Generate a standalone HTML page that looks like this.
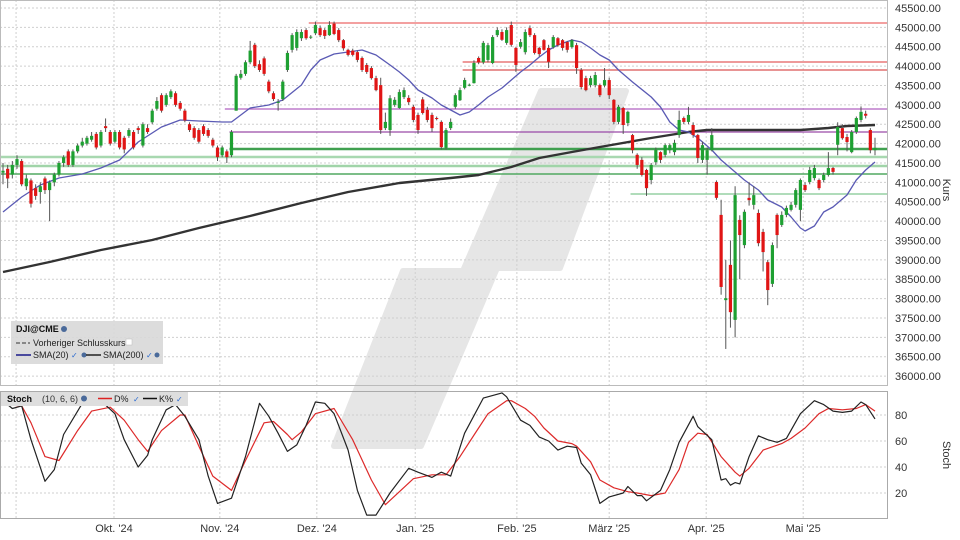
<!DOCTYPE html>
<html><head><meta charset="utf-8"><style>
html,body{margin:0;padding:0;background:#fff;}
svg{display:block;font-family:"Liberation Sans",sans-serif;}
</style></head><body>
<svg id="chart" width="960" height="540" viewBox="0 0 960 540" xmlns="http://www.w3.org/2000/svg">
<rect x="0" y="0" width="960" height="540" fill="#fff"/>
<polygon points="541,91 626,91 560,268 497,268 421,446 334,446 403,271 463,271" fill="#e6e6e6" stroke="#e6e6e6" stroke-width="6" stroke-linejoin="round"/>
<g id="grid"></g>
<g id="levels"></g>
<g id="smas"></g>
<g id="candles"></g>
<g id="stoch"></g>
<g id="axes"></g>
<rect x="0.5" y="0.5" width="887" height="385" fill="none" stroke="#bbb"/>
<rect x="0.5" y="391.5" width="887" height="127" fill="none" stroke="#aaa"/>
<text transform="translate(943,190) rotate(90)" font-size="11" fill="#333" text-anchor="middle">Kurs</text>
<text transform="translate(943,455) rotate(90)" font-size="11" fill="#333" text-anchor="middle">Stoch</text>
<g>
<rect x="11" y="321" width="152" height="43" fill="#d8d8d8" opacity="0.9"/>
<text x="16" y="332" font-size="9" font-weight="bold" fill="#111">DJI@CME</text>
<circle cx="64" cy="329" r="3" fill="#4a6a9a"/>
<line x1="16" y1="343" x2="30" y2="343" stroke="#333" stroke-dasharray="4,2"/>
<text x="33" y="346" font-size="9" fill="#222">Vorheriger Schlusskurs</text>
<rect x="126" y="339" width="6" height="6" fill="#fff" stroke="#bbb" stroke-width="0.5"/>
<line x1="16" y1="355" x2="31" y2="355" stroke="#1a1a8a" stroke-width="1.5"/>
<text x="33" y="358" font-size="9" fill="#222">SMA(20)</text>
<text x="71" y="358" font-size="8" fill="#2a6ad0">✓</text>
<circle cx="84" cy="355" r="2.5" fill="#4a6a9a"/>
<line x1="86" y1="355" x2="101" y2="355" stroke="#222" stroke-width="1.5"/>
<text x="103" y="358" font-size="9" fill="#222">SMA(200)</text>
<text x="146" y="358" font-size="8" fill="#2a6ad0">✓</text>
<circle cx="157" cy="355" r="2.5" fill="#4a6a9a"/>
</g>
<g>
<rect x="1" y="392" width="187" height="14" fill="#dedede"/>
<text x="7" y="402" font-size="9" font-weight="bold" fill="#111">Stoch</text>
<text x="42" y="402" font-size="9" fill="#333">(10, 6, 6)</text>
<circle cx="84" cy="398.5" r="3" fill="#4a6a9a"/>
<line x1="98" y1="398.5" x2="112" y2="398.5" stroke="#d22" stroke-width="1.5"/>
<text x="114" y="402" font-size="9" fill="#222">D%</text>
<text x="133" y="402" font-size="8" fill="#2a6ad0">✓</text>
<line x1="143" y1="398.5" x2="157" y2="398.5" stroke="#111" stroke-width="1.5"/>
<text x="159" y="402" font-size="9" fill="#222">K%</text>
<text x="176" y="402" font-size="8" fill="#2a6ad0">✓</text>
</g>
</svg>
<script>
const opens=[41250,41350,41200,41450,41550,40900,41050,40850,40750,41100,40800,41000,41200,41500,41800,41450,41800,41950,42000,42100,42250,41950,42450,42300,42050,42300,42150,42200,42300,42400,41950,42400,42550,42900,43250,43000,43200,43300,43050,42850,42500,42400,42350,42450,42350,42100,41900,41700,41800,41700,
42850,43700,43800,44100,44550,44050,44200,43600,43300,43050,43150,43900,44420,44470,44720,44930,44750,
44850,44980,44930,44800,45100,44930,44670,44420,44400,44360,44210,44030,43950,43690,43510,42400,42350,43000,42920,43200,43180,42950,42740,43140,42870,42740,42660,42560,41890,42400,42950,43120,43440,43510,43560,44210,44100,44160,44080,44800,44880,44600,45060,44470,44500,44360,44980,44800,44470,44670,44470,44490,44720,44670,44620,44490,44540,43900,43690,43510,43510,43510,43500,
43640,43130,42560,42920,42530,42220,41710,41580,41320,41060,41520,41780,41710,41830,41780,42220,42660,42560,42480,42220,41580,41580,41830,41010,40160,37960,38870,37450,40030,39380,40600,40420,40210,39720,38940,38380,40160,39900,40160,40290,40420,40290,40930,41010,41110,41060,41060,41190,41370,41970,42400,42170,41780,42300,42610,42770,42350,41830];
const closes=[41300,41100,41450,41600,40950,41100,40450,40650,40900,40800,41000,41200,41500,41650,41450,41800,41950,42050,42150,42200,41900,42300,42400,42000,42300,41900,41850,42350,41900,42350,42500,42300,42850,43100,42850,43250,43350,43000,42900,42600,42350,42150,42050,42250,42200,41950,41650,41900,41650,42300,
43750,43800,44100,44400,44000,43900,43800,43350,43150,43080,43600,44340,44800,44880,44880,44720,44760,
45060,44800,44780,45060,44830,44670,44460,44290,44290,44160,43900,43850,43690,43380,42350,42560,43170,43130,43330,43380,43070,42610,42350,42790,42610,42400,42650,41910,42350,42560,43250,43380,43640,43520,44080,44100,44600,44540,44750,44930,44680,44930,44550,44030,44620,44880,44800,44340,44310,44420,44110,44750,44540,44470,44420,44670,43950,43460,43380,43690,43770,43250,43640,
43250,42560,42950,42480,42820,41830,41450,41190,40850,41450,41840,41580,41960,41960,42020,42610,42560,42740,42220,41630,41960,41830,42220,40600,38300,38010,37650,40670,39640,40240,40540,40670,39430,39200,38220,39380,39640,40160,40340,40420,40800,41060,40800,41320,41370,40850,41190,41370,41270,42430,42140,42040,42300,42660,42820,42720,41830,41890];
const highs=[41500,41450,41550,41700,41600,41200,41100,40950,41000,41150,41050,41250,41550,41700,41850,41850,42000,42150,42200,42300,42300,42350,42650,42350,42350,42350,42200,42400,42350,42450,42550,42500,42900,43200,43300,43300,43400,43350,43100,42900,42550,42450,42400,42500,42400,42150,41950,41950,41850,42350,
43800,43900,44150,44650,44600,44150,44250,43650,43350,43150,43650,44400,44850,44950,44950,44980,44800,
45150,45050,44980,45160,45150,44980,44700,44450,44450,44400,44250,44080,44000,43750,43700,42800,43250,43200,43400,43450,43250,43000,42800,43200,42950,42800,42700,42600,42400,42650,43300,43450,43700,43550,44150,44250,44650,44600,44800,45000,44950,45000,45150,44500,44700,44950,45050,44850,44500,44700,44550,44800,44750,44700,44650,44700,44600,43950,43750,43750,43850,43550,43950,
43700,43150,43000,42950,42850,42250,41750,41650,41350,41500,41900,41800,42000,42000,42100,42850,42700,42950,42550,42250,42050,41900,42400,41050,40550,39000,39500,40900,40150,40300,41000,40900,40300,39800,39000,39450,40200,40250,40400,40500,40850,41100,41000,41400,41450,41100,41250,41780,41400,42550,42500,42250,42350,42700,42960,42850,42400,42150];
const lows=[40950,40850,41100,41350,40900,40800,40350,40550,40450,40700,40000,40900,41150,41400,41400,41400,41750,41900,41950,42050,41850,41900,42300,41950,42000,41850,41750,42150,41850,42250,41900,42250,42500,42850,42800,42950,43150,42950,42850,42550,42300,42100,42000,42200,42150,41900,41550,41650,41500,41650,
42850,43650,43750,44050,43950,43850,43750,43300,43100,42850,43100,43850,44350,44400,44650,44680,44700,
44800,44750,44700,44780,44800,44620,44400,44250,44250,44100,43850,43800,43650,43350,42250,42350,42200,42950,42900,43150,43000,42550,42250,42750,42550,42300,42600,41850,41850,42350,42900,43100,43400,43480,43550,44050,44050,44100,44050,44750,44650,44550,44500,43850,44450,44300,44750,44300,44250,44400,43950,44450,44500,44400,44350,44450,43800,43400,43350,43450,43450,43200,43450,
43150,42500,42500,42250,42450,41750,41350,41150,40650,40950,41450,41500,41650,41750,41700,42150,42500,42500,42150,41500,41500,41200,41800,40550,38100,36700,37250,37000,38500,39300,40400,40300,39350,38700,37830,38300,39300,39850,40100,40250,40350,40000,40750,40950,41050,40800,41000,41150,41200,41700,42100,41800,41750,42250,42550,42650,41750,41700];

const sma20Idx=[0,4,8,12,17,21,25,29,34,38,42,47,49,53,57,60,64,66,68,71,74,77,80,83,85,87,89,92,94,96,98,100,102,104,107,109,111,113,115,117,119,122,124,126,128,130,132,135,139,141,143,145,147,149,152,154,157,159,162,164,167,169,171,172,174,176,178,181,183,185,187];
const sma20Val=[40235,40622,40932,41112,41215,41370,41577,42041,42429,42609,42584,42558,42558,42919,42997,43125,43513,43900,44158,44313,44364,44416,44287,44029,43848,43642,43384,43177,42997,42867,42738,42816,42997,43203,43435,43642,43848,44029,44235,44416,44545,44674,44622,44468,44287,44158,43900,43590,43203,42945,42558,42351,42300,42145,41835,41577,41267,41061,40803,40544,40364,40106,39822,39744,39873,40235,40364,40674,41061,41319,41525];
const sma200Idx=[0,10,21,32,42,53,64,74,85,96,102,109,115,122,128,139,147,151,154,162,171,177,181,187];
const sma200Val=[38686,38944,39254,39512,39822,40131,40467,40751,40983,41112,41190,41396,41629,41783,41912,42145,42300,42351,42351,42351,42351,42403,42455,42480];

const kIdx=[0,2,4,6,9,11,13,17,19,21,24,26,29,31,32,35,37,39,42,44,46,49,52,55,57,59,61,63,65,67,69,71,74,76,78,80,83,87,89,92,94,96,99,103,107,108,111,113,115,117,119,121,123,124,126,128,130,133,134,136,137,138,141,143,145,148,149,152,154,155,156,157,158,160,162,164,166,168,171,174,176,178,180,182,184,185,187];
const kVal=[91,85,87,61,29,38,65,89,90,91,81,61,40,49,61,84,88,79,61,33,12,16,48,89,79,66,52,57,72,90,89,81,53,22,3,3,20,39,36,32,36,33,66,93,97,94,76,72,63,60,53,56,55,43,34,12,17,20,25,18,18,14,22,38,59,79,71,61,30,31,26,28,27,48,64,61,59,62,81,91,88,83,82,83,90,88,77];
const dIdx=[0,4,6,9,12,16,19,23,26,29,31,34,38,39,42,45,49,52,56,58,61,62,64,67,71,75,79,82,85,88,92,95,98,102,104,108,109,112,114,116,119,122,123,126,128,131,134,136,139,142,145,147,149,151,154,157,158,160,163,167,169,172,175,177,180,183,185,187];
const dVal=[88,87,74,48,45,68,83,86,76,61,52,68,80,80,56,33,22,45,74,75,65,61,67,81,85,61,30,11,21,31,34,34,48,70,81,91,91,85,79,70,60,58,56,44,30,24,21,20,18,20,38,59,66,65,48,36,33,39,53,58,62,70,81,85,84,85,88,83];

const priceTicks=[45500,45000,44500,44000,43500,43000,42500,42000,41500,41000,40500,40000,39500,39000,38500,38000,37500,37000,36500,36000];
const stochTicks=[20,40,60,80];
const monthIdx=[2.8,23.8,46.5,67.3,88.4,110.2,130,150.8,171.6];
const monthLabels=["","Okt. '24","Nov. '24","Dez. '24","Jan. '25","Feb. '25","März '25","Apr. '25","Mai '25"];

const levelPrices=[45113,44106,43900,42893,42300,41860,41654,41422,41215,40700];
const levelStart=[66,99,99,48,49,49,0,0,0,135];
const levelColors=["#f3a0a0","#ee9a9a","#e07070","#b060c0","#9a4aa8","#40a050","#a8d8b0","#a0d4a8","#50a860","#80c890"];
const levelWidths=[2,2,1.5,1.2,1.2,2.5,2.5,2.5,1.5,1.2];

const NS="http://www.w3.org/2000/svg";
const X0=3,X1=875,PR=888;
const step=(X1-X0)/(opens.length-1);
function xs(i){return X0+i*step;}
function ys(p){return 8+(45500-p)/25.81;}
function yst(v){return 519-v*1.3;}
function mk(tag,attrs,parent){const e=document.createElementNS(NS,tag);for(const k in attrs)e.setAttribute(k,attrs[k]);parent.appendChild(e);return e;}

const grid=document.getElementById('grid');
const axes=document.getElementById('axes');
priceTicks.forEach(p=>{
  const l=mk('line',{x1:0,x2:PR,y1:ys(p),y2:ys(p),stroke:'#cfcfcf','stroke-dasharray':'2,2'},grid);
  
  
  const t=mk('text',{x:895,y:ys(p)+4,'font-size':11,fill:'#333'},axes);
  t.textContent=p.toFixed(2);
  
  
});
stochTicks.forEach(v=>{
  const l=mk('line',{x1:0,x2:PR,y1:yst(v),y2:yst(v),stroke:'#cfcfcf','stroke-dasharray':'2,2'},grid);
  
  
  const t=mk('text',{x:895,y:yst(v)+4,'font-size':11,fill:'#333'},axes);
  t.textContent=v;
  
  
});
monthIdx.forEach((m,k)=>{
  const x=xs(m);
  const l1=mk('line',{x1:x,x2:x,y1:0,y2:386,stroke:'#cfcfcf','stroke-dasharray':'2,2'},grid);
  
  
  const l2=mk('line',{x1:x,x2:x,y1:392,y2:519,stroke:'#cfcfcf','stroke-dasharray':'2,2'},grid);
  
  
  if(monthLabels[k]){
    const t=mk('text',{x:x,y:532,'font-size':11,fill:'#333','text-anchor':'middle'},axes);
    t.textContent=monthLabels[k];
    
    
  }
});

const lev=document.getElementById('levels');
levelPrices.forEach((p,k)=>{
  const l=mk('line',{x1:xs(levelStart[k])-2,x2:PR,y1:ys(p),y2:ys(p),stroke:levelColors[k],'stroke-width':levelWidths[k]},lev);
  
  
});

const sm=document.getElementById('smas');
function poly(idx,val,fy,color,w,parent){
  return mk('polyline',{points:idx.map((i,k)=>xs(i).toFixed(1)+','+fy(val[k]).toFixed(1)).join(' '),fill:'none',stroke:color,'stroke-width':w,'stroke-linejoin':'round'},parent);
}
const s200=poly(sma200Idx,sma200Val,ys,'#333',2.4,sm);


const s20=poly(sma20Idx,sma20Val,ys,'#5a5ab4',1.3,sm);



const cg=document.getElementById('candles');
opens.forEach((o,i)=>{
  const c=closes[i],x=xs(i);
  const w=mk('line',{x1:x,x2:x,y1:ys(highs[i]),y2:ys(lows[i]),stroke:'#555','stroke-width':1},cg);
  
  
  const top=ys(Math.max(o,c)),bot=ys(Math.min(o,c));
  const b=mk('rect',{x:x-1.6,y:top,width:3.2,height:Math.max(1,bot-top),fill:c>=o?'#1ea032':'#e01515'},cg);
  
  
});

const st=document.getElementById('stoch');
const dl=poly(dIdx,dVal,yst,'#dd2a2a',1.2,st);


const kl=poly(kIdx,kVal,yst,'#222',1.2,st);


</script>
</body></html>
